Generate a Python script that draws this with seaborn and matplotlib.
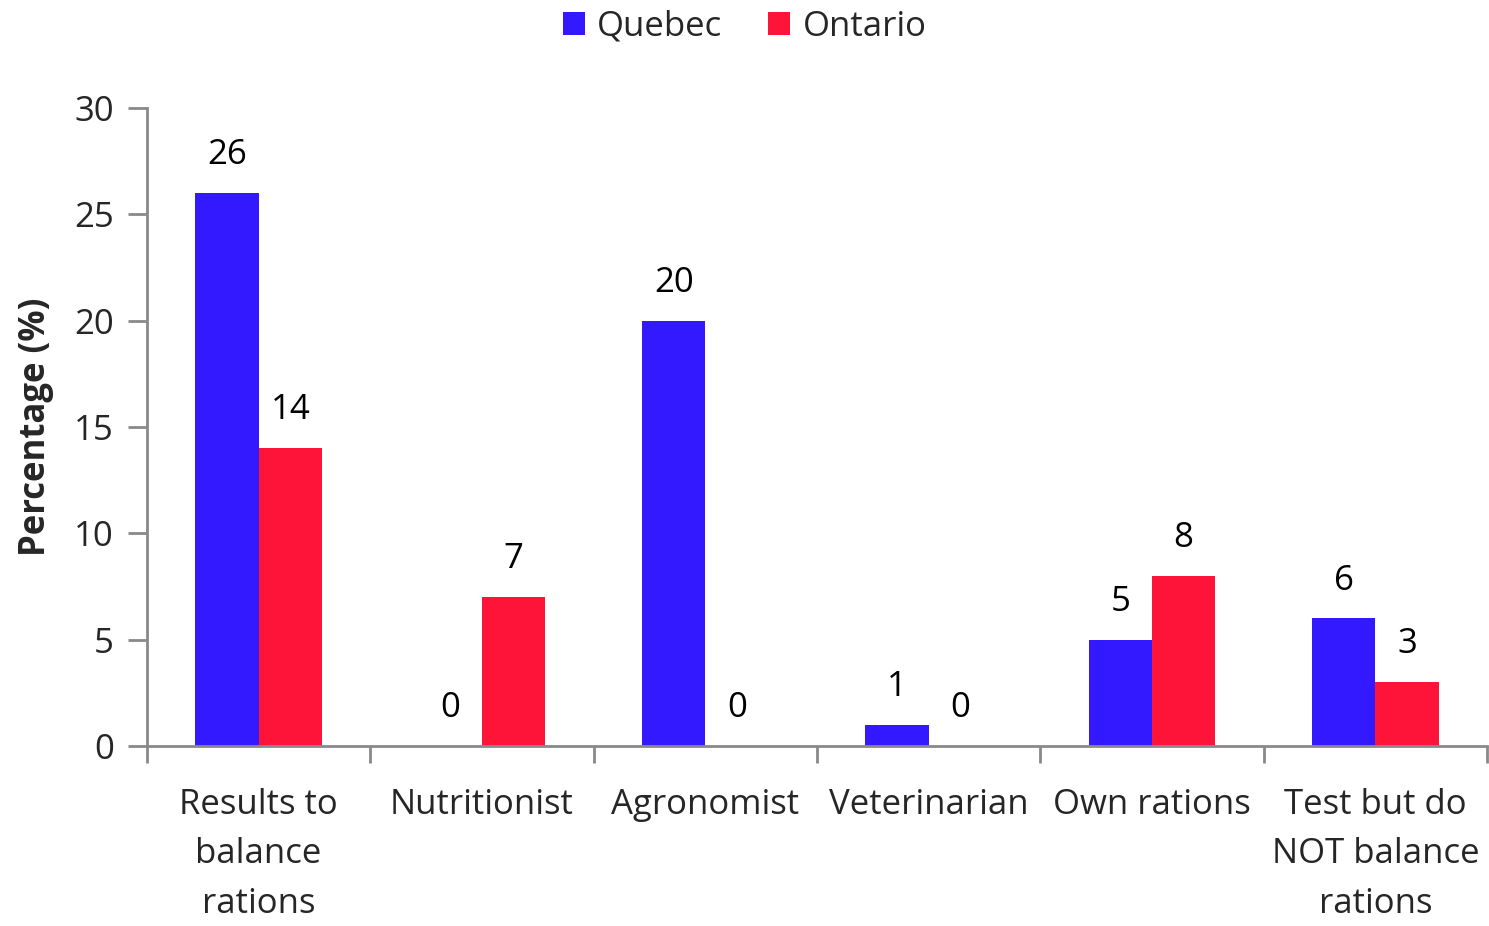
import matplotlib
matplotlib.use("Agg")
import matplotlib.pyplot as plt
import seaborn as sns
import pandas as pd
import numpy as np

categories = ["Results to\nbalance\nrations", "Nutritionist", "Agronomist",
              "Veterinarian", "Own rations", "Test but do\nNOT balance\nrations"]
quebec = [26, 0, 20, 1, 5, 6]
ontario = [14, 7, 0, 0, 8, 3]
series = ["Quebec", "Ontario"]
colors = ["#3219FF", "#FF1439"]
yticks = [0, 5, 10, 15, 20, 25, 30]

df = pd.DataFrame({
    "Category": categories * 2,
    "Value": quebec + ontario,
    "Region": [series[0]] * len(categories) + [series[1]] * len(categories),
})

sns.set_theme(style="white")
plt.rcParams["font.family"] = ["Open Sans", "DejaVu Sans"]

fig = plt.figure(figsize=(14.89, 9.26), dpi=100)
ax = fig.add_axes([0.0987, 0.1944, 0.9, 0.689])

sns.barplot(data=df, x="Category", y="Value", hue="Region", palette=colors,
            width=0.566, ax=ax, saturation=1, legend=True, linewidth=0)

for cont in ax.containers:
    labels = [f"{v:.0f}" for v in cont.datavalues]
    ax.bar_label(cont, labels=labels, padding=15, fontsize=25, color="black")

ax.set_xlim(-0.5, len(categories) - 0.5)
ax.set_ylim(0, 30)
ax.set_yticks(yticks)
ax.set_yticklabels([str(t) for t in yticks], fontsize=25)
ax.set_xticks(range(len(categories)))
ax.set_xticklabels(categories, fontsize=25, linespacing=1.6)
ax.tick_params(axis="x", length=0, pad=30)
ax.tick_params(axis="y", length=14, width=2, color="#898989", direction="out", pad=10, left=True)
# group boundary ticks
ax.set_xticks(np.arange(-0.5, len(categories) + 0.5, 1), minor=True)
ax.tick_params(axis="x", which="minor", length=12, width=2, color="#898989", direction="out", bottom=True)

for s in ["top", "right"]:
    ax.spines[s].set_visible(False)
for s in ["left", "bottom"]:
    ax.spines[s].set_color("#898989")
    ax.spines[s].set_linewidth(2)

ax.set_xlabel("")
ax.set_ylabel("Percentage (%)", fontsize=25, fontweight="bold", labelpad=14)

handles, labels = ax.get_legend_handles_labels()
ax.get_legend().remove()
fig.legend(handles, labels, loc="upper center", bbox_to_anchor=(0.5, 1.023), ncol=2, frameon=False,
           fontsize=25, handlelength=0.65, handleheight=0.65, handletextpad=0.35,
           columnspacing=1.3)

fig.savefig("out.png", dpi=100)
